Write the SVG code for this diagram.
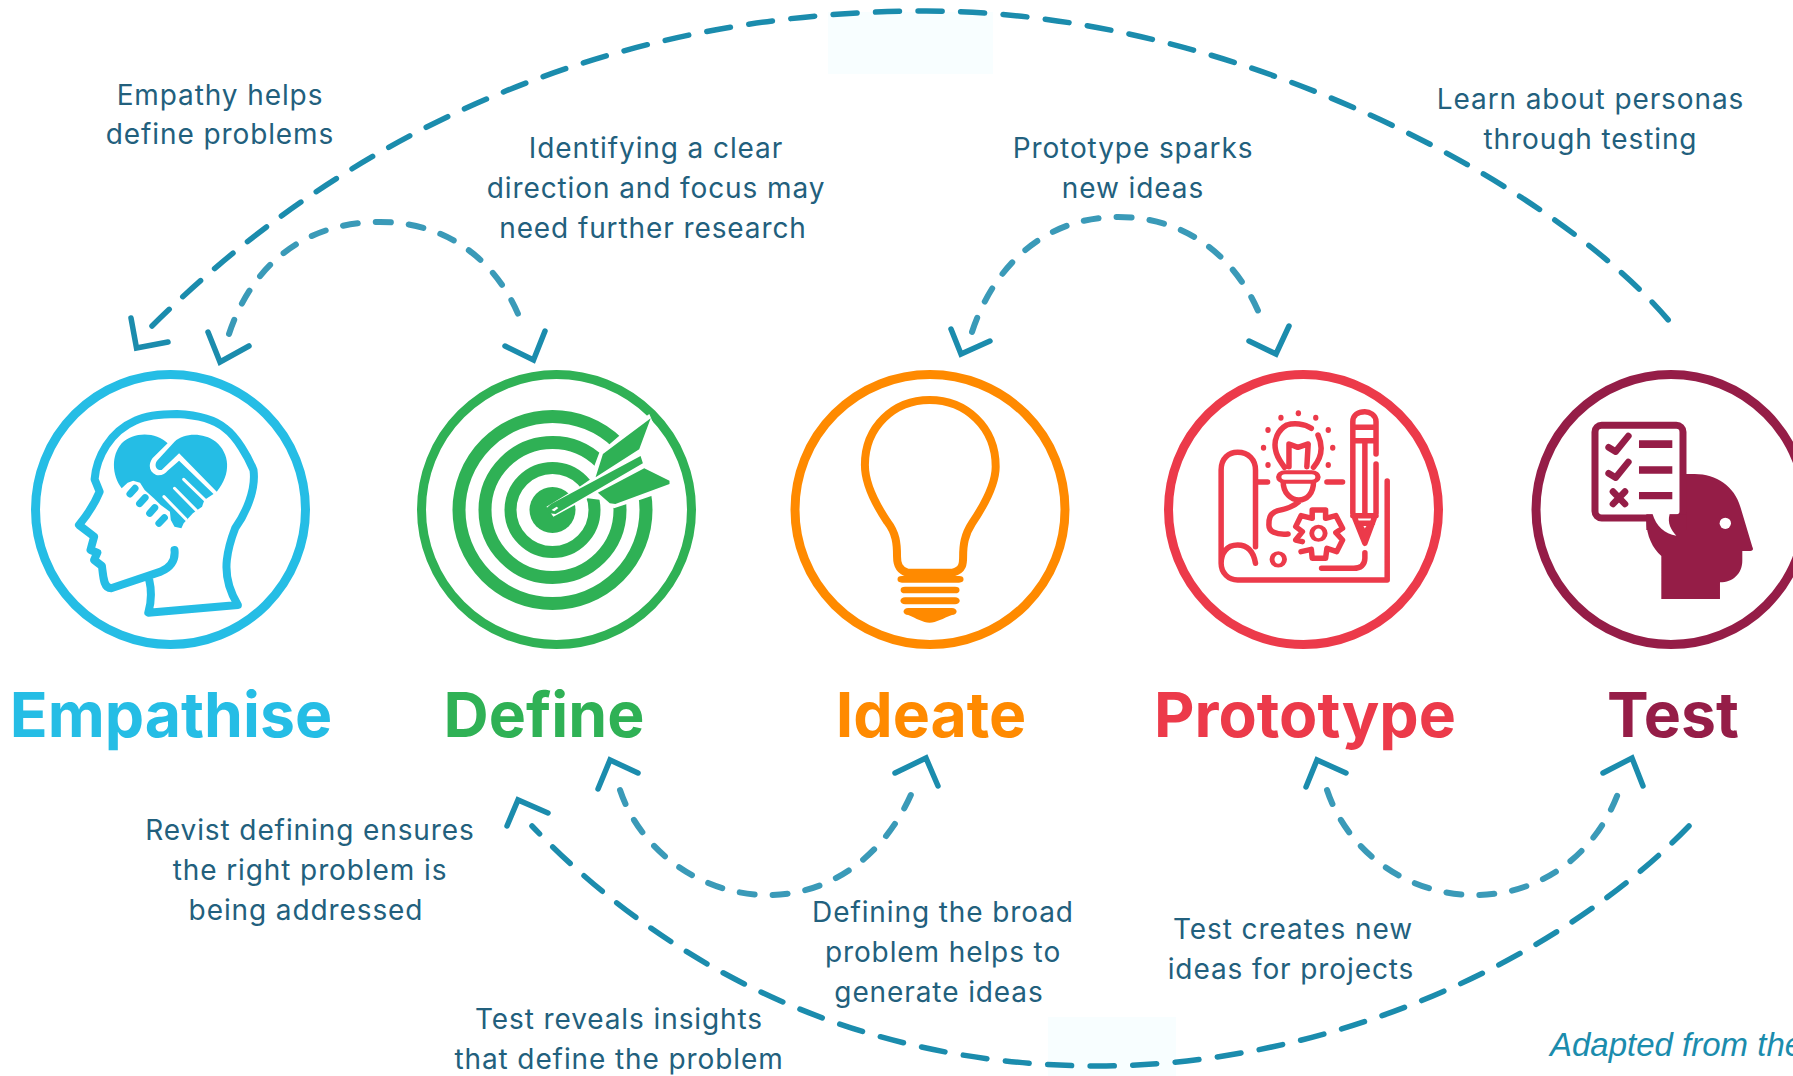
<svg xmlns="http://www.w3.org/2000/svg" width="1793" height="1076" viewBox="0 0 1793 1076">
<defs><style>
text{font-family:"Inter","Noto Sans",sans-serif}
.t{font-size:28px;letter-spacing:.9px;fill:#22607D;text-anchor:middle;font-weight:400}
.h{font-size:62.500px;font-weight:700;text-anchor:middle}
.r{fill:#fff;stroke-width:9}
.n{vector-effect:non-scaling-stroke;fill:none;stroke-linecap:round;stroke-linejoin:round}
.big{fill:none;stroke:#1B8CAD;stroke-width:5.5;stroke-linecap:round;stroke-dasharray:24 18.500}
.sm{fill:none;stroke:#3A9AB8;stroke-width:6;stroke-linecap:round;stroke-dasharray:15 18}
.ch{fill:none;stroke:#1B8CAD;stroke-width:5.5;stroke-linecap:round;stroke-linejoin:miter}
</style></defs>
<rect width="1793" height="1076" fill="#fff"/>
<rect x="828" y="12" width="165" height="62" fill="#F8FEFF"/>
<rect x="1048" y="1017" width="128" height="59" fill="#F8FEFF"/>
<g id="connectors">
<path class="big" d="M152,326 C340,140 600,11 926,11 C1240,11 1560,190 1670,322"/>
<path class="ch" d="M131,318 L136.500,348 L168,342"/>
<path class="sm" d="M229,334 C250,270 300,222 380,222 C455,222 505,270 524,330"/>
<path class="ch" d="M208,332 L220,362 L249,346 M545,331 L533.500,360 L505,346"/>
<path class="sm" d="M972,332 C993,268 1043,217 1118,217 C1193,217 1243,265 1264,326"/>
<path class="ch" d="M951,329 L961,354 L990,341 M1289,326 L1276,354 L1249,341"/>
<path class="sm" d="M620,790 C640,850 700,895 768,895 C835,895 890,850 915,785"/>
<path class="ch" d="M598,789 L610,760 L638,773 M938,786 L926,758 L895,773"/>
<path class="sm" d="M1327,790 C1347,850 1405,895 1475,895 C1545,895 1600,850 1621,785"/>
<path class="ch" d="M1306,787 L1317,760 L1346,773 M1643,786 L1632,758 L1603,773"/>
<path class="big" d="M1689,826 C1560,960 1330,1066 1098,1066 C850,1066 660,960 532,826"/>
<path class="ch" d="M507,826 L518,800 L548,813"/>
</g>
<g id="empathise">
<circle class="r" cx="170.500" cy="509.500" r="135" stroke="#25BDE5"/>
<g transform="translate(0 350) scale(.4592 .3333)">
<path class="n" stroke="#25BDE5" stroke-width="8" d="M325,690 C330,720 330,755 323,788 L518,765 C498,720 490,680 494,630 C497,590 505,560 512,535 C535,490 558,420 552,360 C540,320 515,260 490,235 C465,205 430,195 385,192 C340,192 310,202 295,212 C240,245 210,320 206,388 L217,425 C205,465 190,495 172,525 L205,560 L197,600 L212,608 L205,630 L222,648 C225,680 225,715 242,715 L350,665 C375,650 382,625 380,600"/>
<path fill="#25BDE5" d="M265,415 C245,380 240,320 265,280 C290,245 340,245 365,280 L332,325 C322,345 325,365 340,375 C352,378 360,370 365,362 L390,332 L465,432 L445,450 L440,470 L420,490 L400,520 L395,535 L380,530 L372,510 L370,485 L350,465 L335,445 L315,420 L305,398 L290,392 L278,398 Z"/>
<path fill="#25BDE5" d="M380,275 C400,250 440,245 470,275 C500,310 505,370 472,425 L390,310 L352,360 C340,362 335,345 342,332 Z"/>
<path class="n" stroke="#fff" stroke-width="3" d="M400,388 L450,455 M380,415 L428,482 M357,440 L405,508"/>
<path class="n" stroke="#25BDE5" stroke-width="7" d="M294,415 L283,432 M316,443 L304,461 M337,473 L326,490 M358,503 L346,520"/>
</g>
</g>
<g id="define">
<circle class="r" cx="556.500" cy="509.500" r="135" stroke="#2FB155" fill="none"/>
<circle cx="552.500" cy="510" r="93.500" fill="none" stroke="#2FB155" stroke-width="13"/>
<circle cx="552.500" cy="510" r="67.500" fill="none" stroke="#2FB155" stroke-width="13"/>
<circle cx="552.500" cy="510" r="42" fill="none" stroke="#2FB155" stroke-width="12"/>
<circle cx="552.500" cy="510" r="23" fill="#2FB155"/>
<g transform="translate(0 350) scale(.4592 .3333)">
<path fill="#fff" d="M1190,470 L1240,428 L1262,410 L1286,388 L1295,345 L1305,308 L1328,282 L1350,256 L1414,192 L1480,400 L1420,437 L1393,450 L1365,462 L1337,475 L1310,450 L1280,445 L1252,465 L1205,500 Z"/>
<path fill="#2FB155" d="M1417,205 L1392,298 L1297,382 L1313,312 Z M1403,355 L1458,392 L1458,402 L1340,462 L1328,460 L1302,428 Z M1395,318 L1400,340 L1210,492 L1195,490 L1190,475 L1200,462 Z"/>
<path fill="#fff" d="M1212,470 L1216,474 L1207,484 L1201,480 Z"/>
</g>
</g>
<g id="ideate">
<circle class="r" cx="930" cy="509.500" r="135" stroke="#FF8A00"/>
<g transform="translate(760 350) scale(.4464 .3333)">
<path class="n" stroke="#FF8A00" stroke-width="8" d="M330,668 C310,660 307,640 307,620 C307,580 305,550 285,515 C265,475 235,410 235,345 C235,230 300,150 380,150 C460,150 528,230 528,350 C528,410 495,480 475,520 C458,555 455,585 455,620 C455,640 455,660 432,668 Z"/>
<path fill="#FF8A00" d="M318,678 H446 A10,10 0 0 1 446,698 H318 A10,10 0 0 1 318,678 Z M325,710 H437 A10,10 0 0 1 437,730 H325 A10,10 0 0 1 325,710 Z M325,742 H437 A10,10 0 0 1 437,763 H325 A10,10 0 0 1 325,742 Z M332,774 H430 A10,10 0 0 1 430,795 C410,805 395,818 380,818 C365,818 350,805 332,795 A10,10 0 0 1 332,774 Z"/>
</g>
</g>
<g id="prototype">
<circle class="r" cx="1303.500" cy="509.500" r="135" stroke="#EC3A4A"/>
<g transform="translate(760 350) scale(.4464 .3333)">
<path class="n" stroke="#EC3A4A" stroke-width="5.500" d="M1110,640 C1105,600 1090,585 1070,585 C1045,585 1033,610 1033,640 L1033,360 C1033,325 1050,307 1070,307 C1095,307 1110,330 1110,360 L1110,590 M1033,640 C1033,670 1050,690 1070,690 L1405,690 L1405,393 M1117,396 H1137 M1270,396 H1305 M1235,235 C1220,220 1195,218 1180,225 C1160,240 1150,270 1155,300 C1158,325 1170,340 1175,352 M1250,255 C1262,290 1260,320 1240,352 M1185,350 L1185,282 L1205,292 L1228,282 L1225,350 M1172,395 C1172,430 1190,450 1207,450 C1225,450 1240,430 1240,395 M1207,455 C1195,470 1175,478 1160,482 C1140,490 1140,510 1140,525 C1140,545 1155,555 1183,552 M1237,505 L1237,480 L1267,480 L1267,505 L1290,497 L1305,535 L1290,548 L1305,570 L1292,605 L1270,595 L1267,625 L1237,625 L1235,598 L1212,605 M1215,575 L1200,570 L1215,545 L1200,530 L1212,497 L1237,505 M1380,312 L1380,215 C1380,195 1365,185 1355,185 C1340,185 1328,195 1328,215 L1328,490 L1355,580 L1380,490 L1380,342 M1328,232 H1380 M1328,272 H1380 M1355,280 V490 M1328,497 H1380 M1338,520 H1372 M1348,535 L1355,555 L1362,535 M1355,608 L1355,625 C1355,645 1345,655 1330,655 L1258,655"/>
<rect x="1162" y="367" width="88" height="28" rx="14" fill="#fff" stroke="#EC3A4A" stroke-width="12"/>
<ellipse cx="1251" cy="550" rx="15" ry="20" fill="none" stroke="#EC3A4A" stroke-width="11"/>
<ellipse cx="1161" cy="628" rx="14" ry="19" fill="none" stroke="#EC3A4A" stroke-width="11"/>
<g fill="#EC3A4A"><ellipse cx="1206" cy="190" rx="6" ry="9"/><ellipse cx="1167" cy="203" rx="6" ry="9"/><ellipse cx="1245" cy="203" rx="6" ry="9"/><ellipse cx="1138" cy="240" rx="6" ry="9"/><ellipse cx="1273" cy="240" rx="6" ry="9"/><ellipse cx="1128" cy="293" rx="6" ry="9"/><ellipse cx="1283" cy="293" rx="6" ry="9"/><ellipse cx="1138" cy="345" rx="6" ry="9"/><ellipse cx="1273" cy="345" rx="6" ry="9"/></g>
</g>
</g>
<g id="test">
<circle class="r" cx="1671" cy="509.500" r="135" stroke="#951D47"/>
<g transform="translate(1493 350) scale(.3333)">
<path fill="#951D47" d="M460,510 C460,560 480,595 505,618 L505,747 L681,747 L681,697 C720,697 748,670 748,632 L748,603 L772,603 C780,603 782,597 778,590 L742,470 C725,410 670,372 605,372 L560,372 L560,510 Z"/>
<rect x="306" y="226" width="264" height="278" rx="20" fill="#fff" stroke="#951D47" stroke-width="21"/>
<path fill="#951D47" d="M460,493 H580 V540 H460 Z"/>
<path fill="#fff" d="M478,490 C490,530 515,552 550,557 C535,540 522,520 530,492 Z"/>
<circle cx="697" cy="520" r="17" fill="#fff"/>
<path fill="none" stroke="#951D47" stroke-width="20" stroke-linecap="round" stroke-linejoin="round" d="M347,292 L368,305 L406,258 M347,370 L368,383 L406,336 M360,425 L396,462 M396,425 L360,462"/>
<path fill="#951D47" d="M438,271 H538 V294 H438 Z M438,349 H538 V371 H438 Z M438,426 H538 V448 H438 Z"/>
</g>
</g>
<g id="titles">
<text class="h" x="171" y="737" fill="#25BDE5">Empathise</text>
<text class="h" x="544" y="737" fill="#2FB155">Define</text>
<text class="h" x="931" y="737" fill="#FF8A00">Ideate</text>
<text class="h" x="1305" y="737" fill="#EC3A4A">Prototype</text>
<text class="h" x="1673" y="737" fill="#951D47">Test</text>
</g>
<g id="labels">
<text class="t" x="220" y="105">Empathy helps</text>
<text class="t" x="220" y="144">define problems</text>
<text class="t" x="656" y="158">Identifying a clear</text>
<text class="t" x="656" y="198">direction and focus may</text>
<text class="t" x="653" y="238">need further research</text>
<text class="t" x="1133" y="158">Prototype sparks</text>
<text class="t" x="1133" y="198">new ideas</text>
<text class="t" x="1590.500" y="109">Learn about personas</text>
<text class="t" x="1590.500" y="149">through testing</text>
<text class="t" x="310" y="840">Revist defining ensures</text>
<text class="t" x="310" y="880">the right problem is</text>
<text class="t" x="306" y="920">being addressed</text>
<text class="t" x="943" y="922">Defining the broad</text>
<text class="t" x="943" y="962">problem helps to</text>
<text class="t" x="939" y="1002">generate ideas</text>
<text class="t" x="1293" y="939">Test creates new</text>
<text class="t" x="1291" y="979">ideas for projects</text>
<text class="t" x="619" y="1029">Test reveals insights</text>
<text class="t" x="619" y="1069">that define the problem</text>
<text x="1550" y="1056" style="font-family:'Liberation Sans',Arial,sans-serif;font-style:italic;font-size:33px;fill:#1B8CAD">Adapted from the</text>
</g>
</svg>
